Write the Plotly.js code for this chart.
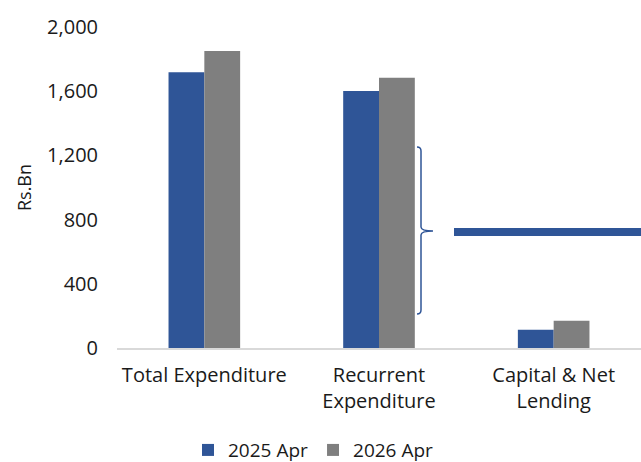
<!DOCTYPE html>
<html>
<head>
<meta charset="utf-8">
<script src="https://cdn.plot.ly/plotly-3.0.1.min.js"></script>
<style>
  html, body { margin: 0; padding: 0; background: #fff; }
  #chart { width: 641px; height: 462px; }
</style>
</head>
<body>
<div id="chart"></div>
<script>
// categories and values (Rs.Bn)
const categories = ['Total Expenditure', 'Recurrent<br>Expenditure', 'Capital & Net<br>Lending'];
const apr2025 = [1718, 1601, 114];
const apr2026 = [1850, 1684, 170];
const seriesNames = ['2025 Apr', '2026 Apr'];
const yTicks = [0, 400, 800, 1200, 1600, 2000];

const BLUE = '#2F5597';
const GREY = '#7F7F7F';
const FONT = '"Open Sans", Lato, sans-serif';
const TXT = '#1a1a1a';

// plot area in pixels
const M = { l: 117, r: 0, t: 27, b: 114, autoexpand: false };
const W = 641, H = 462;
const pw = W - M.l - M.r, ph = H - M.t - M.b;
const px = x => (x - M.l) / pw;
const py = y => (H - M.b - y) / ph;

const traces = [
	{
		x: categories, y: apr2025, name: seriesNames[0], type: 'bar',
		marker: { color: BLUE }
	},
	{
		x: categories, y: apr2026, name: seriesNames[1], type: 'bar',
		marker: { color: GREY }
	}
];

// curly brace next to the recurrent bars
const bx = 421, bTop = 147, bMid = 231, bBot = 314;
const brace = [
	'M', px(417), py(bTop),
	'Q', px(bx), py(bTop), px(bx), py(bTop + 4),
	'L', px(bx), py(bMid - 4),
	'Q', px(bx), py(bMid), px(433), py(bMid),
	'Q', px(bx), py(bMid), px(bx), py(bMid + 4),
	'L', px(bx), py(bBot - 4),
	'Q', px(bx), py(bBot), px(417), py(bBot)
].join(' ');

const layout = {
	width: W, height: H,
	margin: M,
	paper_bgcolor: '#fff',
	plot_bgcolor: '#fff',
	font: { family: FONT, size: 19, color: TXT },
	barmode: 'group',
	bargap: 0.59,
	bargroupgap: 0,
	showlegend: true,
	legend: {
		orientation: 'h',
		x: 0.375, xanchor: 'center',
		y: -0.318, yanchor: 'middle',
		font: { family: FONT, size: 19, color: TXT },
		traceorder: 'normal'
	},
	xaxis: {
		showgrid: false,
		showline: true, linecolor: '#d9d9d9', linewidth: 2,
		ticks: '',
		ticklabelstandoff: 8,
		tickfont: { family: FONT, size: 20, color: TXT },
		fixedrange: true
	},
	yaxis: {
		range: [0, 2000],
		tickvals: yTicks,
		tickformat: ',',
		showgrid: false,
		zeroline: false,
		showline: false,
		ticks: '',
		ticklabelstandoff: 18,
		tickfont: { family: FONT, size: 20, color: TXT },
		title: { text: 'Rs.Bn', standoff: 10, font: { family: FONT, size: 18, color: TXT } },
		fixedrange: true
	},
	shapes: [
		{
			type: 'path', xref: 'paper', yref: 'paper', path: brace,
			line: { color: BLUE, width: 1.5 }
		},
		{
			type: 'rect', xref: 'paper', yref: 'paper',
			x0: px(454), x1: px(645), y0: py(236), y1: py(228),
			fillcolor: BLUE, line: { width: 0 }
		}
	]
};

Plotly.newPlot('chart', traces, layout, { staticPlot: true, displayModeBar: false });
</script>
</body>
</html>
